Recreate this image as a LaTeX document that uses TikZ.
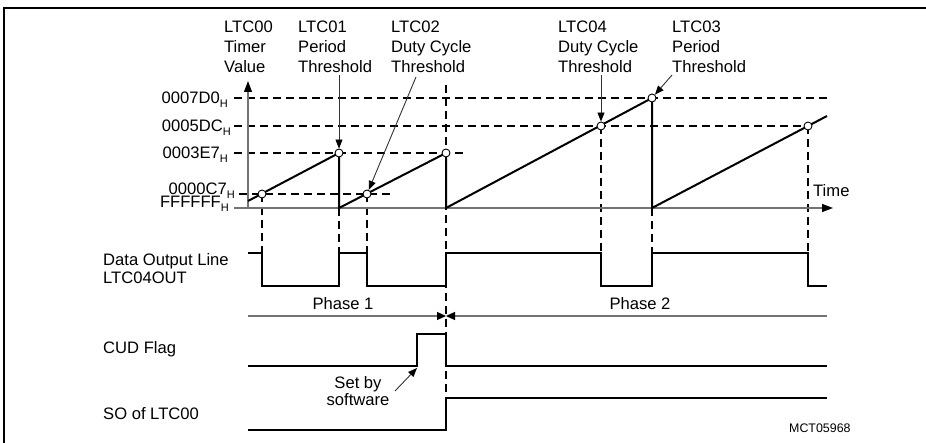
\documentclass[tikz,border=0pt]{standalone}
\usepackage{fontspec}
\setmainfont{Liberation Sans}
\usetikzlibrary{arrows.meta}
\newcommand{\hsub}{\raisebox{-4pt}{\fontsize{11}{11}\selectfont H}}
\begin{document}
\begin{tikzpicture}[x=1pt,y=-1pt,
 sig/.style={line width=2pt, line join=miter},
 dsh/.style={line width=1.4pt, dash pattern=on 8pt off 5pt},
 ax/.style={line width=1.2pt, draw=black!55, -{Triangle[length=11pt,width=8pt,color=black]}},
 lbl/.style={font=\fontsize{16.6}{20}\selectfont, inner sep=0pt, align=left},
 lbls/.style={font=\fontsize{16.6}{18}\selectfont, inner sep=0pt, align=left},
 pt/.style={circle, draw, fill=white, line width=0.9pt, inner sep=0pt, minimum size=8pt},
 ptr/.style={line width=0.9pt, draw=black!80, -{Triangle[length=9pt,width=7pt,color=black]}},
 phs/.style={line width=1.2pt, draw=black!55, -{Triangle[length=9pt,width=8pt,color=black]}},
]
\useasboundingbox (0,0) rectangle (926,443);
\draw[line width=1.5pt] (4,443) -- (4,8) -- (926,8);

% top labels (anchor = baseline of last line)
\node[lbl, anchor=base west] (t00) at (224,73) {LTC00\\Timer\\Value};
\node[lbl, anchor=base west] (t01) at (298,73) {LTC01\\Period\\Threshold};
\node[lbl, anchor=base west] (t02) at (391,73) {LTC02\\Duty Cycle\\Threshold};
\node[lbl, anchor=base west] (t04) at (558,73) {LTC04\\Duty Cycle\\Threshold};
\node[lbl, anchor=base west] (t03) at (672,73) {LTC03\\Period\\Threshold};

% value labels
\node[lbl, anchor=base east] (v1) at (228,104) {0007D0\hsub};
\node[lbl, anchor=base east] (v2) at (231,132) {0005DC\hsub};
\node[lbl, anchor=base east] (v3) at (228,159) {0003E7\hsub};
\node[lbl, anchor=base east] (v4) at (235,195) {0000C7\hsub};
\node[lbl, anchor=base east] (v5) at (229,208) {FFFFFF\hsub};

% dashed reference lines
\draw[dsh] (234,98) -- (827,98);
\draw[dsh] (234,126) -- (808,126);
\draw[dsh] (234,153) -- (463,153);
\draw[dsh] (239,194) -- (390,194);
\draw[dsh] (262,194) -- (262,253);
\draw[dsh] (339,208) -- (339,253);
\draw[dsh] (367,194) -- (367,253);
\draw[dsh] (446,85) -- (446,430);
\draw[dsh] (601,126) -- (601,253);
\draw[dsh] (652,208) -- (652,253);
\draw[dsh] (808,126) -- (808,253);

% axes
\coordinate (yb) at (248,208);
\coordinate (yt) at (248,81);
\coordinate (xa) at (234,208);
\coordinate (xb) at (833,208);
\draw[ax] (yb) -- (yt);
\draw[ax] (xa) -- (xb);
\node[lbl, anchor=base west] (time) at (813,197) {Time};

% sawtooth
\draw[sig] (248,201) -- (339,153) -- (339,208) -- (446,153) -- (446,208)
  -- (652,98) -- (652,208) -- (827,116);

% threshold points
\node[pt] (p1) at (262,194) {};
\node[pt] (p2) at (339,153) {};
\node[pt] (p3) at (367,194) {};
\node[pt] (p4) at (446,153) {};
\node[pt] (p5) at (601,126) {};
\node[pt] (p6) at (652,98) {};
\node[pt] (p7) at (808,126) {};

% pointer arrows
\coordinate (a1) at (339,75);
\coordinate (a2) at (416,77);
\coordinate (a4) at (601,75);
\coordinate (a3) at (672,75);
\draw[ptr] (a1) -- (p2);
\draw[ptr] (a2) -- (p3);
\draw[ptr] (a4) -- (p5);
\draw[ptr] (a3) -- (p6);

% data output line
\node[lbls, anchor=base west] (ldo) at (103,284) {Data Output Line\\LTC04OUT};
\draw[sig] (248,253) -- (262,253) -- (262,286) -- (339,286) -- (339,253) -- (367,253)
  -- (367,286) -- (446,286) -- (446,253) -- (601,253) -- (601,286) -- (652,286)
  -- (652,253) -- (808,253) -- (808,286) -- (827,286);

% phases
\coordinate (ph0) at (248,316);
\coordinate (phm) at (446,316);
\coordinate (ph1) at (827,316);
\draw[phs] (ph0) -- (phm);
\draw[phs] (ph1) -- (phm);
\node[lbl, anchor=base] (ph1t) at (343,310) {Phase 1};
\node[lbl, anchor=base] (ph2t) at (640,310) {Phase 2};

% CUD flag
\node[lbl, anchor=base west] (lcud) at (103,354) {CUD Flag};
\draw[sig] (248,366) -- (417,366) -- (417,334) -- (446,334) -- (446,366) -- (827,366);
\node[font=\fontsize{16.6}{17}\selectfont, inner sep=0pt, align=center, anchor=base] (sbs) at (358,405) {Set by\\software};
\coordinate (sa) at (395,391);
\coordinate (sb) at (417,368);
\draw[ptr] (sa) -- (sb);

% SO
\node[lbl, anchor=base west] (lso) at (103,419) {SO of LTC00};
\draw[sig] (248,430) -- (446,430) -- (446,398) -- (827,398);

\node[font=\fontsize{12.4}{14}\selectfont, inner sep=0pt, anchor=base west] (mct) at (789,432) {MCT05968};
\end{tikzpicture}
\end{document}
